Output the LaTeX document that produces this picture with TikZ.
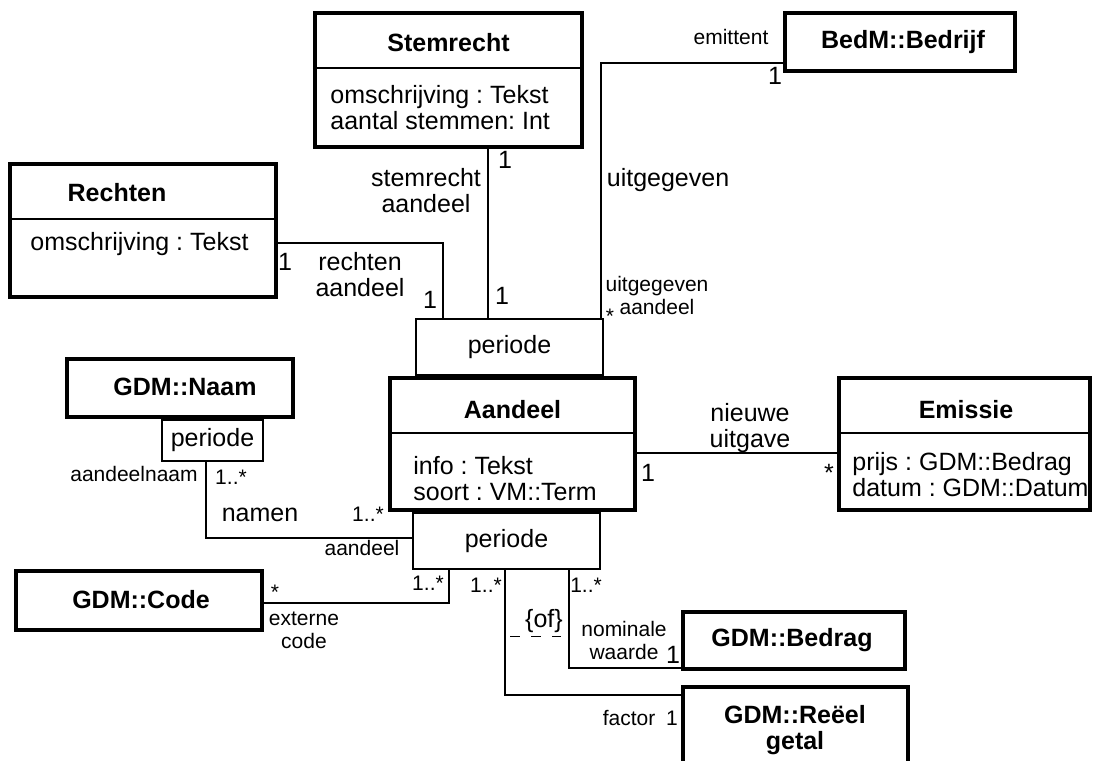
\documentclass[tikz,border=0pt]{standalone}
\usepackage{fontspec}
\setmainfont{Liberation Sans}
\usepackage{tikz}
\usetikzlibrary{positioning}

\newcommand{\grootfont}{\fontsize{12.5}{13}\selectfont}
\newcommand{\kleinfont}{\fontsize{10.5}{11.5}\selectfont}
\frenchspacing

\tikzset{
  klasse/.style={draw, line width=2pt, inner sep=0pt},
  kwal/.style={draw, line width=0.8pt, inner sep=0pt, font=\grootfont},
  deel/.style={line width=0.8pt},
  assoc/.style={line width=0.8pt},
  ofstreep/.style={line width=0.8pt, dash pattern=on 5pt off 5.5pt},
  titel/.style={font=\grootfont\bfseries, align=center, inner sep=0pt},
  attr/.style={font=\grootfont, align=left, anchor=west, inner sep=0pt},
  rol/.style={font=\grootfont, align=center, inner sep=0pt},
  rolklein/.style={font=\kleinfont, align=center, inner sep=0pt}
}

\begin{document}
\begin{tikzpicture}[x=0.5pt, y=-0.5pt]
        \useasboundingbox (0,0) rectangle (1095,760);
        \clip (0,0) rectangle (1095,760);

        % NODES
        % -----------------

        \node[klasse, minimum width=122.5pt, minimum height=66pt] (aandeel) at (512.5,444) {};
        \node[titel] (aandeel_t) at (512.5,410) {Aandeel};
        \node[attr] (aandeel_a) at (413,479) {info : Tekst\\soort : VM::Term};

        \node[kwal, minimum width=93.5pt, minimum height=28pt, above=0pt of aandeel, xshift=-1.5pt] (periode_boven) {periode};
        \node[kwal, minimum width=93.5pt, minimum height=28pt, below=0pt of aandeel, xshift=-3pt] (periode_onder) {periode};

        \node[klasse, minimum width=133.5pt, minimum height=67pt] (stemrecht) at (448.5,80) {};
        \node[titel] (stemrecht_t) at (448.5,43) {Stemrecht};
        \node[attr] (stemrecht_a) at (330,108) {omschrijving : Tekst\\aantal stemmen: Int};

        \node[klasse, minimum width=115pt, minimum height=29pt] (bedrijf) at (900,42) {};
        \node[titel] (bedrijf_t) at (903,42) {BedM::Bedrijf};

        \node[klasse, minimum width=133pt, minimum height=66.5pt] (rechten) at (143,230.5) {};
        \node[titel] (rechten_t) at (117,193) {Rechten};
        \node[attr] (rechten_a) at (30,244) {omschrijving : Tekst};

        \node[klasse, minimum width=113pt, minimum height=29pt] (naam) at (180,388) {};
        \node[titel] (naam_t) at (185,387) {GDM::Naam};
        \node[kwal, minimum width=50.5pt, minimum height=20.5pt, below=0pt of naam, xshift=16.25pt] (naam_periode) {periode};

        \node[klasse, minimum width=125.5pt, minimum height=66pt] (emissie) at (964.5,444) {};
        \node[titel] (emissie_t) at (966,410) {Emissie};
        \node[attr] (emissie_a) at (852,475) {prijs : GDM::Bedrag\\datum : GDM::Datum};

        \node[klasse, minimum width=123pt, minimum height=29.5pt] (code) at (139,600.5) {};
        \node[titel] (code_t) at (141,600) {GDM::Code};

        \node[klasse, minimum width=111pt, minimum height=28.5pt] (bedrag) at (794,640.5) {};
        \node[titel] (bedrag_t) at (792,640) {GDM::Bedrag};

        \node[klasse, minimum width=112.5pt, minimum height=44pt] (reeel) at (795.5,731) {};
        \node[titel] (reeel_t) at (795,730) {GDM::Reëel\\getal};

        % compartment lines
        \draw[deel] ([yshift=-28.5pt]aandeel.north west) -- ([yshift=-28.5pt]aandeel.north east);
        \draw[deel] ([yshift=-28.5pt]stemrecht.north west) -- ([yshift=-28.5pt]stemrecht.north east);
        \draw[deel] ([yshift=-28.5pt]rechten.north west) -- ([yshift=-28.5pt]rechten.north east);
        \draw[deel] ([yshift=-28.5pt]emissie.north west) -- ([yshift=-28.5pt]emissie.north east);

        % ROLES AND MULTIPLICITIES
        % -----------------
        \node[rol] (stemrecht_rol) at (426,191) {stemrecht\\aandeel};
        \node[rol] (stemrecht_m1) at (505,160) {1};
        \node[rol] (stemrecht_m2) at (502,296) {1};

        \node[rol] (rechten_rol) at (360,275) {rechten\\aandeel};
        \node[rol] (rechten_m1) at (285,262) {1};
        \node[rol] (rechten_m2) at (430,300) {1};

        \node[rol] (uitgegeven) at (668,180) {uitgegeven};
        \node[rolklein] (emittent) at (731,37) {emittent};
        \node[rol] (bedrijf_m) at (775,76) {1};
        \node[rolklein] (uitgegeven_rol) at (657,295) {uitgegeven\\aandeel};
        \node[rolklein] (uitgegeven_m) at (610,316) {*};

        \node[rol] (nieuwe_uitgave) at (750,428) {nieuwe\\uitgave};
        \node[rol] (emissie_m1) at (648,473) {1};
        \node[rol] (emissie_m2) at (829,473) {*};

        \node[rolklein] (aandeelnaam) at (134,474) {aandeelnaam};
        \node[rolklein] (naam_m1) at (231,477) {1..*};
        \node[rol] (namen) at (260,515) {namen};
        \node[rolklein] (naam_m2) at (368,514) {1..*};
        \node[rolklein] (naam_aandeel) at (362,548) {aandeel};

        \node[rolklein] (code_m1) at (275,592) {*};
        \node[rolklein] (externe_code) at (304,630) {externe\\code};
        \node[rolklein] (code_m2) at (428,583) {1..*};

        \node[rolklein] (factor_m1) at (486,585) {1..*};
        \node[rol] (of) at (544,621) {\{of\}};
        \node[rolklein] (factor) at (629,718) {factor};
        \node[rolklein] (factor_m2) at (672,718) {1};

        \node[rolklein] (nominaal_m1) at (586,585) {1..*};
        \node[rolklein] (nominale_waarde) at (624,640) {nominale\\waarde};
        \node[rol] (nominaal_m2) at (673,655) {1};

        % EDGES
        % -----------------
        \draw[assoc] ([yshift=5pt]bedrijf.south west) -| ([xshift=-1.5pt]periode_boven.north east);
        \draw[assoc] ([xshift=19.75pt]stemrecht.south) -- ([xshift=19.75pt]stemrecht.south |- periode_boven.north);
        \draw[assoc] ([yshift=-6.25pt]rechten.east) -| ([xshift=14pt]periode_boven.north west);
        \draw[assoc] ([yshift=-4.5pt]aandeel.east) -- ([yshift=-4.5pt]aandeel.east -| emissie.west);
        \draw[assoc] ([xshift=22.5pt]naam_periode.south west) |- ([yshift=1.5pt]periode_onder.west);
        \draw[assoc] ([yshift=-1.25pt]code.east) -| ([xshift=18.5pt]periode_onder.south west);
        \draw[assoc] ([xshift=46.5pt]periode_onder.south west) |- ([yshift=-5pt]reeel.north west);
        \draw[assoc] ([xshift=78.5pt]periode_onder.south west) |- ([yshift=1.5pt]bedrag.south west);

        % or-constraint
        \draw[ofstreep] ([xshift=49pt,yshift=-33.5pt]periode_onder.south west) -- ([xshift=74.5pt,yshift=-33.5pt]periode_onder.south west);

    \end{tikzpicture}
\end{document}
